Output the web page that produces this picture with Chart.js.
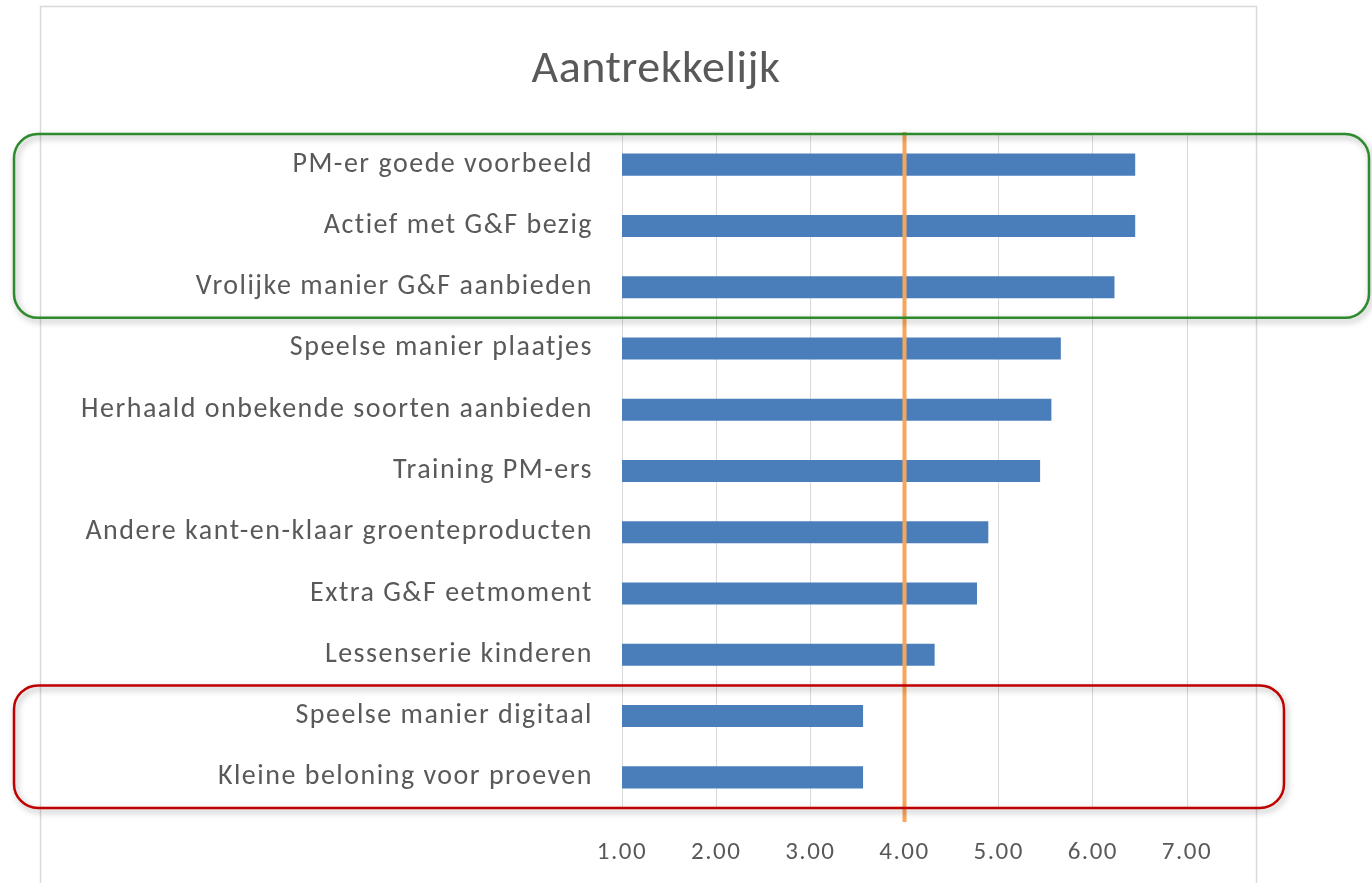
<!DOCTYPE html>
<html>
<head>
<meta charset="utf-8">
<script src="https://cdn.jsdelivr.net/npm/chart.js"></script>
<style>
  html, body { margin: 0; padding: 0; background: #ffffff; }
  #wrap { width: 1372px; height: 883px; position: relative; }
</style>
</head>
<body>
<div id="wrap"><canvas id="chart"></canvas></div>
<script>
// data
const categories = [
  "PM-er goede voorbeeld",
  "Actief met G&F bezig",
  "Vrolijke manier G&F aanbieden",
  "Speelse manier plaatjes",
  "Herhaald onbekende soorten aanbieden",
  "Training PM-ers",
  "Andere kant-en-klaar groenteproducten",
  "Extra G&F eetmoment",
  "Lessenserie kinderen",
  "Speelse manier digitaal",
  "Kleine beloning voor proeven"
];
const scores = [6.45, 6.45, 6.23, 5.66, 5.56, 5.44, 4.89, 4.77, 4.32, 3.56, 3.56];
const tickValues = [1, 2, 3, 4, 5, 6, 7];
const referenceValue = 4;
const chartTitle = "Aantrekkelijk";
const topGroup = [0, 2];     // green box
const bottomGroup = [9, 10]; // red box

const textColor = "#595959";
const fontFamily = "Carlito, Lato, 'Open Sans', sans-serif";

// Excel text looks a bit spread out, so widen the letters
const spacingPlugin = {
  id: "spacing",
  beforeLayout(chart) { chart.ctx.letterSpacing = "1.5px"; },
  beforeDraw(chart) { chart.ctx.letterSpacing = "1.5px"; }
};

// outer chart frame and title, like the Excel chart object
const framePlugin = {
  id: "frame",
  beforeDraw(chart) {
    const ctx = chart.ctx;
    ctx.save();
    ctx.fillStyle = "#ffffff";
    ctx.fillRect(0, 0, chart.width, chart.height);
    ctx.strokeStyle = "#d9d9d9";
    ctx.lineWidth = 1.5;
    ctx.strokeRect(40.5, 6.5, 1216, chart.height + 20);
    ctx.fillStyle = textColor;
    ctx.letterSpacing = "0.5px";
    ctx.font = "46px " + fontFamily;
    ctx.textAlign = "center";
    ctx.textBaseline = "alphabetic";
    ctx.fillText(chartTitle, 656, 82);
    ctx.restore();
  }
};

// orange reference line at 4.00
const refLinePlugin = {
  id: "refLine",
  afterDatasetsDraw(chart) {
    const ctx = chart.ctx;
    const x = chart.scales.x.getPixelForValue(referenceValue);
    const area = chart.chartArea;
    ctx.save();
    ctx.strokeStyle = "#f7a55a";
    ctx.lineWidth = 4;
    ctx.beginPath();
    ctx.moveTo(x, area.top - 2);
    ctx.lineTo(x, area.bottom + 14);
    ctx.stroke();
    ctx.restore();
  }
};

function roundRect(ctx, x, y, w, h, r) {
  ctx.beginPath();
  ctx.moveTo(x + r, y);
  ctx.lineTo(x + w - r, y);
  ctx.arcTo(x + w, y, x + w, y + r, r);
  ctx.lineTo(x + w, y + h - r);
  ctx.arcTo(x + w, y + h, x + w - r, y + h, r);
  ctx.lineTo(x + r, y + h);
  ctx.arcTo(x, y + h, x, y + h - r, r);
  ctx.lineTo(x, y + r);
  ctx.arcTo(x, y, x + r, y, r);
  ctx.closePath();
}

// highlight boxes around groups of categories
const boxesPlugin = {
  id: "boxes",
  afterDraw(chart) {
    const ctx = chart.ctx;
    const ys = chart.scales.y;
    const band = ys.getPixelForValue(1) - ys.getPixelForValue(0);
    const boxes = [
      { group: topGroup, color: "#2d8a2d", right: chart.width - 3 },
      { group: bottomGroup, color: "#c00000", right: chart.scales.x.getPixelForValue(8.03) }
    ];
    boxes.forEach(b => {
      const top = ys.getPixelForValue(b.group[0]) - band / 2;
      const bottom = ys.getPixelForValue(b.group[1]) + band / 2;
      ctx.save();
      ctx.shadowColor = "rgba(0,0,0,0.35)";
      ctx.shadowBlur = 6;
      ctx.shadowOffsetX = 2;
      ctx.shadowOffsetY = 3;
      ctx.strokeStyle = b.color;
      ctx.lineWidth = 2.5;
      roundRect(ctx, 14, top, b.right - 14, bottom - top, 24);
      ctx.stroke();
      ctx.restore();
    });
  }
};

new Chart(document.getElementById("chart"), {
  type: "bar",
  data: {
    labels: categories,
    datasets: [{
      data: scores,
      backgroundColor: "#4a7ebb",
      borderWidth: 0,
      categoryPercentage: 1,
      barPercentage: 0.36
    }]
  },
  options: {
    indexAxis: "y",
    responsive: true,
    maintainAspectRatio: false,
    animation: false,
    layout: { padding: { left: 40, right: 185, top: 134, bottom: 0 } },
    plugins: {
      legend: { display: false },
      tooltip: { enabled: false },
      title: { display: false }
    },
    scales: {
      x: {
        min: 1,
        max: 7,
        afterBuildTicks(scale) {
          scale.ticks = tickValues.map(v => ({ value: v }));
        },
        afterFit(scale) { scale.height = 75; },
        grid: { color: "#d9d9d9", lineWidth: 1, drawTicks: false },
        border: { display: false },
        ticks: {
          color: textColor,
          padding: 30,
          font: { family: fontFamily, size: 25 },
          callback: v => Number(v).toFixed(2)
        }
      },
      y: {
        afterFit(scale) { scale.width = 582; },
        grid: { display: false, drawTicks: false },
        border: { display: false },
        ticks: {
          color: textColor,
          padding: 29,
          font: { family: fontFamily, size: 28 }
        }
      }
    }
  },
  plugins: [spacingPlugin, framePlugin, refLinePlugin, boxesPlugin]
});
</script>
</body>
</html>
